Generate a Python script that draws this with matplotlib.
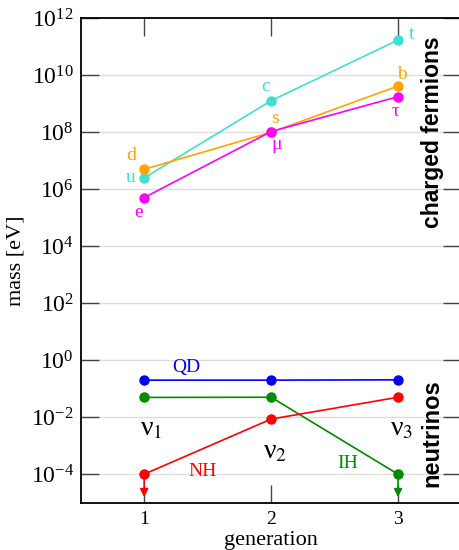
import numpy as np
import matplotlib
matplotlib.use("Agg")
import matplotlib.pyplot as plt

plt.rcParams['font.family'] = ['Liberation Serif', 'DejaVu Serif']
plt.rcParams['mathtext.fontset'] = 'stix'

# generations
gen = [1, 2, 3]

# charged fermion masses [eV]
up_quarks = [2.5e6, 1.28e9, 1.73e11]
down_quarks = [5.0e6, 1.0e8, 4.2e9]
leptons = [5.1e5, 1.06e8, 1.78e9]
up_names = ['u', 'c', 't']
down_names = ['d', 's', 'b']
lepton_names = ['e', 'μ', 'τ']

# neutrino masses [eV]
nu_qd = [0.2, 0.2, 0.205]
nu_ih = [0.0495, 0.0502, 1e-4]
nu_nh = [1e-4, 0.0086, 0.0502]
nu_names = ['ν$_{1}$', 'ν$_{2}$', 'ν$_{3}$']

c_up = '#40E0D0'
c_down = '#FFA500'
c_lep = '#FF00FF'
c_qd = '#0000FF'
c_ih = '#008B00'
c_nh = '#FF0000'

W, H = 459, 550
fig = plt.figure(figsize=(W / 100, H / 100), dpi=100)
ax = fig.add_axes([80.7 / W, (H - 502.7) / H, (461.5 - 80.7) / W, (502.7 - 18.3) / H])

ms = 6.5
lw = 1.2
for ys, col in [(up_quarks, c_up), (down_quarks, c_down), (leptons, c_lep),
                (nu_qd, c_qd), (nu_ih, c_ih), (nu_nh, c_nh)]:
    ax.plot(gen, ys, '-o', color=col, lw=lw, ms=ms, zorder=3)

# upper-limit arrows for the lightest neutrino
ax.annotate('', xy=(1, 1.25e-5), xytext=(1, nu_nh[0]),
            arrowprops=dict(arrowstyle='-|>', color=c_nh, lw=lw, mutation_scale=12), zorder=3)
ax.annotate('', xy=(3, 1.25e-5), xytext=(3, nu_ih[2]),
            arrowprops=dict(arrowstyle='-|>', color=c_ih, lw=lw, mutation_scale=12), zorder=3)

ax.set_yscale('log')
ax.set_ylim(1e-5, 1e12)
ax.set_xlim(0.5, 3.5)
ax.set_xticks(gen)
ax.set_yticks([10.0 ** k for k in range(-4, 13, 2)])
ax.yaxis.set_minor_locator(matplotlib.ticker.NullLocator())
ax.tick_params(axis='both', which='major', direction='in', length=13, width=1,
               top=True, right=True, color='#444444')
ax.tick_params(axis='y', labelsize=17, pad=5)
ax.tick_params(axis='x', labelsize=14, pad=6)
for yv in [10.0 ** k for k in range(-4, 11, 2)]:
    ax.axhline(yv, color='#dddddd', lw=1, zorder=0)
for s in ax.spines.values():
    s.set_linewidth(1.3)

ax.set_xlabel('generation', fontsize=16)
ax.xaxis.set_label_coords(0.5, -0.058)
ax.set_ylabel('mass [eV]', fontsize=16, labelpad=4)

fs = 14
# particle labels (offsets in points)
offs_up = [(-10, 0), (-4, 10), (10, 4)]
offs_down = [(-9, 10), (3, 10), (3, 8)]
offs_lep = [(-4, -11), (4, -9), (-2, -11)]
for i in range(3):
    ax.annotate(up_names[i], (gen[i], up_quarks[i]), xytext=offs_up[i], textcoords='offset points',
                color=c_up, fontsize=fs, ha='center', va='center')
    ax.annotate(down_names[i], (gen[i], down_quarks[i]), xytext=offs_down[i], textcoords='offset points',
                color=c_down, fontsize=fs, ha='center', va='center')
    ax.annotate(lepton_names[i], (gen[i], leptons[i]), xytext=offs_lep[i], textcoords='offset points',
                color=c_lep, fontsize=fs, ha='center', va='center')

nu_pos = [(1.06, 4e-3), (2.03, 6e-4), (3.03, 4e-3)]
for name, (xx, yy) in zip(nu_names, nu_pos):
    ax.text(xx, yy, name, fontsize=20, ha='center', va='center')

ax.text(1.33, 0.55, 'QD', color=c_qd, fontsize=fs, ha='center', va='center')
ax.text(1.46, 1.2e-4, 'NH', color=c_nh, fontsize=fs, ha='center', va='center')
ax.text(2.6, 2.3e-4, 'IH', color=c_ih, fontsize=fs, ha='center', va='center')

ax.text(3.27, 1.0e8, 'charged fermions', rotation=90, fontsize=16.5, fontweight='bold',
        family=['Liberation Sans', 'DejaVu Sans'], ha='center', va='center')
ax.text(3.27, 2.8e-3, 'neutrinos', rotation=90, fontsize=17, fontweight='bold',
        family=['Liberation Sans', 'DejaVu Sans'], ha='center', va='center')

fig.savefig('out.png', dpi=100)
